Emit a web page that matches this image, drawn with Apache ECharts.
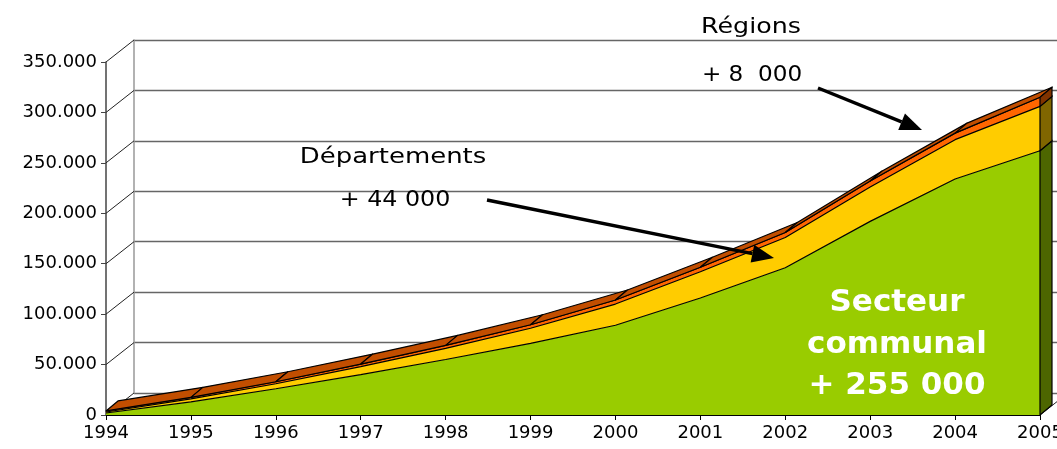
<!DOCTYPE html>
<html>
<head>
<meta charset="utf-8">
<script src="https://cdn.jsdelivr.net/npm/echarts@6/dist/echarts.min.js"></script>
<style>
html,body{margin:0;padding:0;background:#fff;}
#chart{width:1057px;height:449px;}
</style>
</head>
<body>
<div id="chart"></div>
<script>
// ---- data (values in units) ----
const years = ['1994','1995','1996','1997','1998','1999','2000','2001','2002','2003','2004','2005'];
const communal = [2000, 13000, 26000, 40000, 55000, 71000, 89000, 116000, 146000, 192000, 234000, 262000];
const departements = [1000, 3000, 5000, 8000, 11000, 15000, 21000, 26000, 30000, 34000, 39000, 44000];
const regions = [1000, 1500, 2000, 2500, 3000, 3500, 4000, 4500, 5000, 6000, 6500, 9000];
const yTicks = [0, 50000, 100000, 150000, 200000, 250000, 300000, 350000];

// ---- derived ----
const lvl1 = communal.slice();
const lvl2 = communal.map((v, i) => v + departements[i]);
const lvl3 = lvl2.map((v, i) => v + regions[i]);

// 3D look parameters (pixels)
const WALL = [28, -22];   // back wall offset
const DEPTH = [12, -10];  // series depth

const chart = echarts.init(document.getElementById('chart'));

function add(p, d) { return [p[0] + d[0], p[1] + d[1]]; }

function arrow(x1, y1, x2, y2) {
  const ang = Math.atan2(y2 - y1, x2 - x1);
  const L = 22, W = 9;
  const bx = x2 - L * Math.cos(ang), by = y2 - L * Math.sin(ang);
  const nx = -Math.sin(ang), ny = Math.cos(ang);
  return [
    { type: 'line', shape: { x1: x1, y1: y1, x2: bx, y2: by }, style: { stroke: '#000', lineWidth: 3.5 }, z: 100 },
    { type: 'polygon', shape: { points: [[x2, y2], [bx + nx * W, by + ny * W], [bx - nx * W, by - ny * W]] }, style: { fill: '#000' }, z: 100 }
  ];
}

const annoFont = '"DejaVu Sans", sans-serif';
const axisFont = '"DejaVu Sans", sans-serif';

function label(text, x, y, font, fill, sx) {
  return {
    type: 'text', x: x, y: y, scaleX: sx, z: 100,
    style: { text: text, x: 0, y: 0, fill: fill, font: font, align: 'center', verticalAlign: 'middle' }
  };
}

const option = {
  animation: false,
  backgroundColor: '#fff',
  grid: [
    { left: 106, right: 17, top: 62, bottom: 34, outerBoundsMode: 'none', containLabel: false },
    { left: 106 + WALL[0], width: 934, top: 62 + WALL[1], height: 353, outerBoundsMode: 'none', containLabel: false }
  ],
  xAxis: [
    {
      gridIndex: 0, type: 'category', data: years, boundaryGap: false,
      axisLine: { lineStyle: { color: '#000', width: 1 } },
      axisTick: { show: true, length: 5, lineStyle: { color: '#000' } },
      axisLabel: { color: '#000', fontSize: 18, fontFamily: axisFont, margin: 9, showMinLabel: true, showMaxLabel: true },
      splitLine: { show: false }
    },
    {
      gridIndex: 1, type: 'category', data: years, boundaryGap: false,
      axisLine: { show: false }, axisTick: { show: false }, axisLabel: { show: false }, splitLine: { show: false }
    }
  ],
  yAxis: [
    {
      gridIndex: 0, type: 'value', min: 0, max: 350000, interval: 50000,
      axisLine: { show: true, lineStyle: { color: '#444', width: 1.5 } },
      axisTick: { show: true, length: 5, lineStyle: { color: '#444' } },
      axisLabel: {
        color: '#000', fontSize: 18, fontFamily: axisFont, margin: 9,
        formatter: v => v === 0 ? '0' : (v / 1000) + '.000'
      },
      splitLine: { show: false }
    },
    {
      gridIndex: 1, type: 'value', min: 0, max: 350000, interval: 50000,
      axisLine: { show: true, lineStyle: { color: '#999', width: 1.5 } },
      axisTick: { show: false }, axisLabel: { show: false },
      splitLine: { show: true, lineStyle: { color: '#666', width: 1.3 } }
    }
  ],
  series: [
    // connectors between front axis and back wall
    {
      type: 'custom', xAxisIndex: 0, yAxisIndex: 0, clip: false, z: 1,
      data: yTicks.map(v => [0, v]).concat([[years.length - 1, 0]]),
      renderItem: function (params, api) {
        const p = api.coord([api.value(0), api.value(1)]);
        const q = add(p, WALL);
        return { type: 'line', shape: { x1: p[0], y1: p[1], x2: q[0], y2: q[1] }, style: { stroke: '#222', lineWidth: 1 } };
      }
    },
    {
      name: 'Secteur communal', type: 'line', xAxisIndex: 0, yAxisIndex: 0, stack: 'tot', data: communal,
      symbol: 'none', lineStyle: { color: '#000', width: 1.2 }, areaStyle: { color: '#99CC00', opacity: 1 }, z: 3
    },
    {
      name: 'Départements', type: 'line', xAxisIndex: 0, yAxisIndex: 0, stack: 'tot', data: departements,
      symbol: 'none', lineStyle: { color: '#000', width: 1.2 }, areaStyle: { color: '#FFCC00', opacity: 1 }, z: 3
    },
    {
      name: 'Régions', type: 'line', xAxisIndex: 0, yAxisIndex: 0, stack: 'tot', data: regions,
      symbol: 'none', lineStyle: { color: '#000', width: 1.2 }, areaStyle: { color: '#FF6600', opacity: 1 }, z: 3
    },
    // top surface of the stack
    {
      type: 'custom', xAxisIndex: 0, yAxisIndex: 0, clip: false, z: 4,
      data: years.slice(0, -1).map((y, i) => [i]),
      renderItem: function (params, api) {
        const i = api.value(0);
        const a = api.coord([i, lvl3[i]]);
        const b = api.coord([i + 1, lvl3[i + 1]]);
        return {
          type: 'polygon',
          shape: { points: [a, b, add(b, DEPTH), add(a, DEPTH)] },
          style: { fill: '#C24E00', stroke: '#000', lineWidth: 1.2, lineJoin: 'round' }
        };
      }
    },
    // right side faces
    {
      type: 'custom', xAxisIndex: 0, yAxisIndex: 0, clip: false, z: 4,
      data: [[years.length - 1]],
      renderItem: function (params, api) {
        const i = api.value(0);
        const levels = [0, lvl1[i], lvl2[i], lvl3[i]];
        const cols = ['#4D6600', '#806600', '#803300'];
        const children = [];
        for (let k = 0; k < 3; k++) {
          const a = api.coord([i, levels[k]]);
          const b = api.coord([i, levels[k + 1]]);
          children.push({
            type: 'polygon',
            shape: { points: [a, b, add(b, DEPTH), add(a, DEPTH)] },
            style: { fill: cols[k], stroke: '#000', lineWidth: 1.2 }
          });
        }
        return { type: 'group', children: children };
      }
    }
  ],
  graphic: [
    label('Régions', 751, 27, '22px ' + annoFont, '#000', 1.15),
    label('+ 8  000', 752, 75, '22px ' + annoFont, '#000', 1.05),
    label('Départements', 393, 157, '22px ' + annoFont, '#000', 1.18),
    label('+ 44 000', 395, 200, '22px ' + annoFont, '#000', 1.08),
    label('Secteur', 897, 303, 'bold 31px ' + annoFont, '#fff', 1),
    label('communal', 897, 345, 'bold 31px ' + annoFont, '#fff', 1),
    label('+ 255 000', 897, 386, 'bold 31px ' + annoFont, '#fff', 1)
  ].concat(arrow(818, 88, 922, 130)).concat(arrow(487, 200, 774, 258))
};

chart.setOption(option);
</script>
</body>
</html>
